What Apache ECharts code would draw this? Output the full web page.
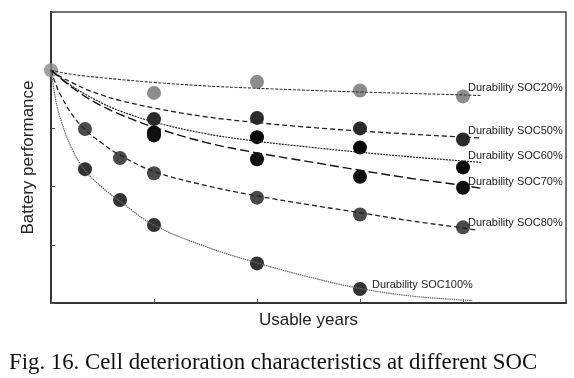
<!DOCTYPE html>
<html>
<head>
<meta charset="utf-8">
<script src="https://cdn.jsdelivr.net/npm/echarts@6/dist/echarts.min.js"></script>
<style>html,body{margin:0;padding:0;background:#fff}#c{width:574px;height:378px}</style>
</head>
<body>
<div id="c"></div>
<script>
// ---- data ----
const curveX = [0, 0.1, 0.2, 0.33, 0.5, 0.67, 1, 1.5, 2, 2.5, 3, 3.5, 4, 4.18];
const soc20Curve = [4.0, 3.96, 3.93, 3.90, 3.87, 3.84, 3.79, 3.73, 3.69, 3.655, 3.625, 3.60, 3.575, 3.565];
const soc50Curve = [4.0, 3.88, 3.79, 3.68, 3.57, 3.48, 3.35, 3.20, 3.10, 3.02, 2.955, 2.90, 2.85, 2.835];
const soc60Curve = [4.0, 3.86, 3.73, 3.59, 3.43, 3.30, 3.11, 2.91, 2.78, 2.68, 2.59, 2.51, 2.44, 2.415];
const soc70Curve = [4.0, 3.85, 3.71, 3.55, 3.38, 3.24, 3.02, 2.76, 2.58, 2.43, 2.28, 2.14, 2.02, 1.97];
const soc80CurveX = [0, 0.05, 0.1, 0.2, 0.33, 0.5, 0.67, 1, 1.5, 2, 2.5, 3, 3.5, 4, 4.14];
const soc80Curve = [4.0, 3.74, 3.55, 3.25, 2.98, 2.74, 2.54, 2.26, 2.02, 1.84, 1.69, 1.55, 1.41, 1.29, 1.25];
const soc100CurveX = [0, 0.05, 0.1, 0.2, 0.33, 0.5, 0.67, 1, 1.5, 2, 2.5, 3, 3.5, 4, 4.09];
const soc100Curve = [4.0, 3.45, 3.12, 2.66, 2.28, 1.98, 1.75, 1.34, 0.97, 0.69, 0.45, 0.25, 0.12, 0.05, 0.04];

const startX = [0];
const startY = [4.0];
const dotX = [1, 2, 3, 4];
const soc20Dots = [3.61, 3.80, 3.65, 3.55];
const soc50Dots = [3.16, 3.18, 3.00, 2.81];
const soc60Dots = [2.93, 2.85, 2.67, 2.33];
const soc70Dots = [2.88, 2.47, 2.17, 1.98];
const soc80DotX = [0.33, 0.67, 1, 2, 3, 4];
const soc80Dots = [2.99, 2.49, 2.23, 1.81, 1.52, 1.30];
const soc100DotX = [0.33, 0.67, 1, 2, 3];
const soc100Dots = [2.30, 1.77, 1.34, 0.68, 0.24];

const seriesNames = ['Durability SOC20%', 'Durability SOC50%', 'Durability SOC60%', 'Durability SOC70%', 'Durability SOC80%', 'Durability SOC100%'];
const xTicks = [0, 1, 2, 3, 4, 5];
const yTicks = [0, 1, 2, 3, 4, 5];

// ---- build ----
const zip = (xs, ys) => xs.map((x, i) => [x, ys[i]]);
const SANS = 'Liberation Sans';

function curve(xs, ys, color, dash, width) {
  return {
    type: 'line', data: zip(xs, ys), showSymbol: false, symbol: 'none',
    smooth: 0.4, z: 5, silent: true,
    lineStyle: { color: color, width: width, type: dash }
  };
}
function dots(xs, ys, color, name, labelOffset, labelDist) {
  const data = zip(xs, ys).map((p, i) => {
    if (i === xs.length - 1) {
      return { value: p, label: { show: true, formatter: name, position: 'right', distance: labelDist, offset: labelOffset,
        color: '#222', fontFamily: SANS, fontSize: 11 } };
    }
    return p;
  });
  return { type: 'scatter', data: data, symbolSize: 14, z: 3, silent: true,
    itemStyle: { color: color, opacity: 1 } };
}

const chart = echarts.init(document.getElementById('c'), null, { renderer: 'canvas' });
chart.setOption({
  animation: false,
  backgroundColor: '#ffffff',
  title: {
    text: 'Fig. 16. Cell deterioration characteristics at different SOC',
    left: 9, top: 352, padding: 0,
    textStyle: { fontFamily: 'Liberation Serif', fontSize: 22.8, fontWeight: 'normal', color: '#111' }
  },
  grid: { left: 51, right: 8, top: 12, bottom: 75, show: true, borderColor: '#444', borderWidth: 1.5 },
  xAxis: {
    type: 'value', min: xTicks[0], max: xTicks[xTicks.length - 1], interval: 1,
    name: 'Usable years', nameLocation: 'middle', nameGap: 9,
    nameTextStyle: { fontFamily: SANS, fontSize: 17, color: '#222' },
    axisLine: { show: true, lineStyle: { color: '#333', width: 2 } },
    axisTick: { show: true, inside: true, length: 4, lineStyle: { color: '#555' } },
    axisLabel: { show: false }, splitLine: { show: false }
  },
  yAxis: {
    type: 'value', min: yTicks[0], max: yTicks[yTicks.length - 1], interval: 1,
    name: 'Battery performance', nameLocation: 'middle', nameGap: 14, nameRotate: 90,
    nameTextStyle: { fontFamily: SANS, fontSize: 17, color: '#222' },
    axisLine: { show: true, lineStyle: { color: '#333', width: 2 } },
    axisTick: { show: true, inside: true, length: 4, lineStyle: { color: '#555' } },
    axisLabel: { show: false }, splitLine: { show: false }
  },
  series: [
    dots(dotX, soc20Dots, '#8c8c8c', seriesNames[0], [0, -8], -2),
    dots(dotX, soc50Dots, '#2b2b2b', seriesNames[1], [0, -8.5], -2),
    dots(dotX, soc60Dots, '#080808', seriesNames[2], [0, -11.5], -2),
    dots(dotX, soc70Dots, '#111111', seriesNames[3], [0, -6], -2),
    dots(soc80DotX, soc80Dots, '#4a4a4a', seriesNames[4], [0, -4], -2),
    dots(soc100DotX, soc100Dots, '#333333', seriesNames[5], [0, -4], 5),
    { type: 'scatter', data: zip(startX, startY), symbolSize: 14, z: 4, silent: true, itemStyle: { color: '#8a8a8a' } },
    curve(curveX, soc20Curve, '#333', [3, 1.5], 1.1),
    curve(curveX, soc50Curve, '#222', [5, 3], 1.3),
    curve(curveX, soc60Curve, '#222', [2, 1], 1.2),
    curve(curveX, soc70Curve, '#111', [9, 4], 1.4),
    curve(soc80CurveX, soc80Curve, '#222', [5, 3], 1.3),
    curve(soc100CurveX, soc100Curve, '#666', [1.5, 0.7], 1.2)
  ]
});
</script>
</body>
</html>
